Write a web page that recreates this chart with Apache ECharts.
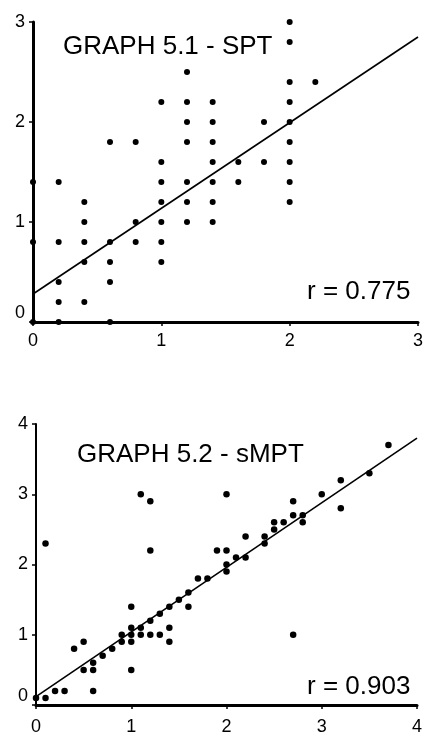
<!DOCTYPE html>
<html>
<head>
<meta charset="utf-8">
<script src="https://cdn.jsdelivr.net/npm/echarts@6/dist/echarts.min.js"></script>
<style>
  html, body { margin: 0; padding: 0; background: #fff; }
  #chart { width: 426px; height: 736px; }
</style>
</head>
<body>
<div id="chart"></div>
<script>
// GRAPH 5.1 - SPT
const sptTicks = [0, 1, 2, 3];
const sptPoints = [
  [0, 1.4], [0, 0.8], [0, 0],
  [0.2, 1.4], [0.2, 0.8], [0.2, 0.4], [0.2, 0.2], [0.2, 0],
  [0.4, 1.2], [0.4, 1.0], [0.4, 0.8], [0.4, 0.6], [0.4, 0.2],
  [0.6, 1.8], [0.6, 0.8], [0.6, 0.6], [0.6, 0.4], [0.6, 0],
  [0.8, 1.8], [0.8, 1.0], [0.8, 0.8],
  [1.0, 2.2], [1.0, 1.6], [1.0, 1.4], [1.0, 1.2], [1.0, 1.0], [1.0, 0.8], [1.0, 0.6],
  [1.2, 2.5], [1.2, 2.2], [1.2, 2.0], [1.2, 1.8], [1.2, 1.4], [1.2, 1.2], [1.2, 1.0],
  [1.4, 2.2], [1.4, 2.0], [1.4, 1.8], [1.4, 1.6], [1.4, 1.4], [1.4, 1.2], [1.4, 1.0],
  [1.6, 1.6], [1.6, 1.4],
  [1.8, 2.0], [1.8, 1.6],
  [2.0, 3.0], [2.0, 2.8], [2.0, 2.4], [2.0, 2.2], [2.0, 2.0], [2.0, 1.8], [2.0, 1.6], [2.0, 1.4], [2.0, 1.2],
  [2.2, 2.4]
];
const sptFit = [[0, 0.28], [3, 2.85]];

// GRAPH 5.2 - sMPT
const smptTicks = [0, 1, 2, 3, 4];
const smptPoints = [
  [0, 0.1], [0.1, 0.1], [0.2, 0.2], [0.3, 0.2], [0.4, 0.8], [0.5, 0.9], [0.5, 0.5],
  [0.6, 0.5], [0.6, 0.6], [0.6, 0.2], [0.7, 0.7], [0.8, 0.8], [0.9, 1.0], [0.9, 0.9],
  [1.0, 1.4], [1.0, 1.1], [1.0, 1.0], [1.0, 0.9], [1.0, 0.5], [1.1, 1.1], [1.1, 1.0],
  [1.2, 1.2], [1.2, 1.0], [1.3, 1.3], [1.3, 1.0], [1.4, 1.4], [1.4, 1.1], [1.4, 0.9],
  [1.5, 1.5], [1.6, 1.6], [1.6, 1.4], [1.7, 1.8], [1.8, 1.8], [1.9, 2.2], [2.0, 2.2],
  [2.1, 2.1], [2.0, 2.0], [2.0, 1.9], [0.1, 2.3], [1.2, 2.2], [1.1, 3.0], [1.2, 2.9],
  [2.0, 3.0], [2.2, 2.1], [2.2, 2.4], [2.4, 2.4], [2.4, 2.3], [2.5, 2.5], [2.5, 2.6],
  [2.6, 2.6], [2.7, 2.7], [2.7, 2.9], [2.8, 2.7], [2.8, 2.6], [3.0, 3.0], [3.2, 3.2],
  [3.2, 2.8], [3.5, 3.3], [3.7, 3.7], [2.7, 1.0]
];
const smptFit = [[0, 0.12], [4, 3.8]];

const FONT = '"Liberation Sans", Arial, Helvetica, sans-serif';

const xAxisFor = (gridIndex, ticks, lw, margin) => ({
  type: "value",
  gridIndex,
  min: ticks[0],
  max: ticks[ticks.length - 1],
  interval: 1,
  axisLine: { show: true, lineStyle: { color: "#000", width: lw } },
  axisTick: { show: true, length: 4, lineStyle: { color: "#000", width: 1.5 } },
  axisLabel: { color: "#000", fontSize: 18, fontFamily: FONT, margin },
  splitLine: { show: false }
});

const yAxisFor = (gridIndex, ticks, lw) => ({
  type: "value",
  gridIndex,
  min: ticks[0],
  max: ticks[ticks.length - 1],
  interval: 1,
  axisLine: { show: true, lineStyle: { color: "#000", width: lw } },
  axisTick: { show: true, length: 4, lineStyle: { color: "#000", width: 1.5 } },
  axisLabel: {
    color: "#000",
    fontSize: 18,
    fontFamily: FONT,
    margin: 8,
    formatter: v => (v === 0 ? "{z|0}" : String(v)),
    rich: { z: { fontSize: 18, fontFamily: FONT, color: "#000", padding: [0, 0, 18, 0] } }
  },
  splitLine: { show: false }
});

const chart = echarts.init(document.getElementById("chart"));

chart.setOption({
  animation: false,
  backgroundColor: "#fff",
  grid: [
    { left: 33, top: 22, width: 389, height: 300 },
    { left: 36, top: 424, width: 381, height: 292 }
  ],
  xAxis: [xAxisFor(0, sptTicks, 3, 10), xAxisFor(1, smptTicks, 3, 13)],
  yAxis: [yAxisFor(0, sptTicks, 3), yAxisFor(1, smptTicks, 2)],
  series: [
    {
      type: "scatter",
      xAxisIndex: 0,
      yAxisIndex: 0,
      data: sptPoints,
      symbolSize: 6,
      clip: false,
      itemStyle: { color: "#000", opacity: 1 }
    },
    {
      type: "line",
      xAxisIndex: 0,
      yAxisIndex: 0,
      data: sptFit,
      showSymbol: false,
      lineStyle: { color: "#000", width: 1.6 }
    },
    {
      type: "scatter",
      xAxisIndex: 1,
      yAxisIndex: 1,
      data: smptPoints,
      symbolSize: 6.5,
      clip: false,
      itemStyle: { color: "#000", opacity: 1 }
    },
    {
      type: "line",
      xAxisIndex: 1,
      yAxisIndex: 1,
      data: smptFit,
      showSymbol: false,
      lineStyle: { color: "#000", width: 1.6 }
    }
  ],
  graphic: [
    { type: "text", x: 63, y: 47, style: { text: "GRAPH 5.1 - SPT", font: "26px " + FONT, fill: "#000", verticalAlign: "middle" } },
    { type: "text", x: 307, y: 292, style: { text: "r = 0.775", font: "26px " + FONT, fill: "#000", verticalAlign: "middle" } },
    { type: "text", x: 77, y: 455, style: { text: "GRAPH 5.2 - sMPT", font: "26px " + FONT, fill: "#000", verticalAlign: "middle" } },
    { type: "text", x: 307, y: 687, style: { text: "r = 0.903", font: "26px " + FONT, fill: "#000", verticalAlign: "middle" } }
  ]
});
</script>
</body>
</html>
